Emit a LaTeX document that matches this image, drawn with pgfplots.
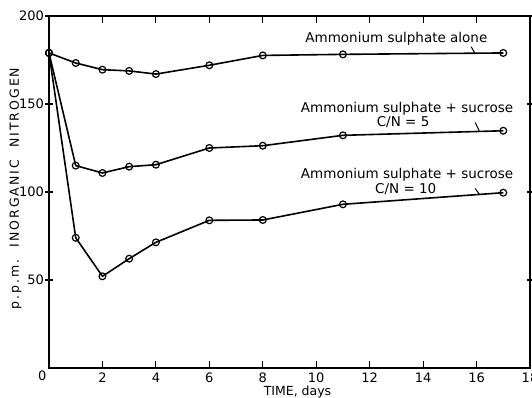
\documentclass[border=0pt]{standalone}
\usepackage{fontspec}
\setmainfont{DejaVu Sans}
\usepackage{pgfplots}
\pgfplotsset{compat=1.18}
\begin{document}
\begin{tikzpicture}[x=1pt,y=1pt]
\useasboundingbox (0,0) rectangle (532,398);
\begin{axis}[
  at={(49pt,30pt)}, anchor=south west,
  scale only axis, width=481pt, height=352pt,
  xmin=0, xmax=18, ymin=0, ymax=200,
  xtick={2,4,...,18}, ytick={50,100,150,200},
  axis line style={line width=1.6pt},
  x tick style={line width=1.1pt, black}, y tick style={line width=1.1pt, black},
  xtick align=inside, ytick align=center,
  major tick length=7pt,
  tick label style={font=\fontsize{13}{14}\selectfont},
  /pgf/number format/assume math mode=true,
  xticklabel style={yshift=-1pt},
  yticklabel style={xshift=2pt},
  clip=false,
]
\addplot[black, line width=1.6pt, mark=o, mark size=3.4pt, mark options={fill=white, line width=1.2pt}]
  coordinates {(0,179) (1,173.3) (2,169.5) (3,168.8) (4,167) (6,172) (8,177.6) (11,178.2) (17,179)};
\addplot[black, line width=1.6pt, mark=o, mark size=3.4pt, mark options={fill=white, line width=1.2pt}]
  coordinates {(0,179) (1,115) (2,110.8) (3,114.4) (4,115.5) (6,125) (8,126.3) (11,132.2) (17,134.8)};
\addplot[black, line width=1.6pt, mark=o, mark size=3.4pt, mark options={fill=white, line width=1.2pt}]
  coordinates {(0,179) (1,74) (2,52.1) (3,62.1) (4,71.4) (6,83.9) (8,84.1) (11,93) (17,99.6)};
\node[font=\fontsize{13.5}{14}\selectfont] at (axis cs:13.0,187) {Ammonium sulphate alone};
\node[font=\fontsize{13.5}{14}\selectfont] at (axis cs:13.4,147) {Ammonium sulphate + sucrose};
\node[font=\fontsize{13.5}{14}\selectfont] at (axis cs:13.25,139.5) {C/N = 5};
\node[font=\fontsize{13.5}{14}\selectfont] at (axis cs:13.4,109.7) {Ammonium sulphate + sucrose};
\node[font=\fontsize{13.5}{14}\selectfont] at (axis cs:13.35,101.5) {C/N = 10};
\draw[line width=1pt] (axis cs:15.8,182.5) -- (axis cs:15.95,178.5);
\draw[line width=1pt] (axis cs:15.95,139.5) -- (axis cs:16.1,134.8);
\draw[line width=1pt] (axis cs:15.95,102) -- (axis cs:16.1,98.8);
\node[font=\fontsize{13}{14}\selectfont] at (axis cs:-0.25,-4.5) {0};
\node[font=\fontsize{12.5}{14}\selectfont\addfontfeature{LetterSpace=16}, rotate=90] at (axis cs:-1.25,102) {p.p.m.\ \ INORGANIC\ \ NITROGEN};
\node[font=\fontsize{12.5}{14}\selectfont] at (axis cs:9.3,-13.6) {TIME, days};
\end{axis}
\end{tikzpicture}
\end{document}
